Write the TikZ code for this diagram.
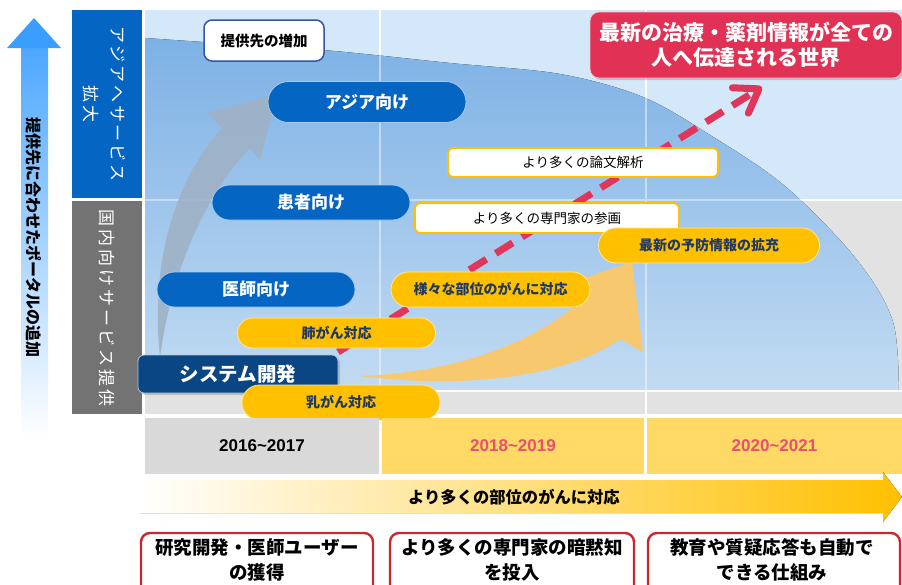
\documentclass[tikz,border=0pt]{standalone}
\usepackage{fontspec}
\setmainfont{Noto Sans CJK JP}
\newfontfamily\jpls{Noto Sans CJK JP}[LetterSpace=17]
\newfontfamily\numfont{Liberation Sans}
\usetikzlibrary{shapes.misc,arrows.meta,shadows}
\definecolor{skyband}{HTML}{D5E8FA}
\definecolor{grayband}{HTML}{E2E2E2}
\definecolor{yearbox}{HTML}{D9D9D9}
\definecolor{yearyel}{HTML}{FFD966}
\definecolor{pillblue}{HTML}{0565C2}
\definecolor{navybox}{HTML}{0A4584}
\definecolor{gold}{HTML}{FFC000}
\definecolor{navytext}{HTML}{1F3864}
\definecolor{goalred}{HTML}{E13154}
\definecolor{dashred}{HTML}{E0365A}
\definecolor{yeartext}{HTML}{E8506E}
\definecolor{lblblue}{HTML}{0565C3}
\definecolor{lblgray}{HTML}{737373}
\definecolor{upblue}{HTML}{3A9EFF}
\definecolor{grayarrow}{HTML}{9FB2C6}
\definecolor{orangearrow}{HTML}{F7C86E}
\definecolor{blobtop}{HTML}{7DB1E5}
\definecolor{blobmid}{HTML}{8BC2F2}
\definecolor{blobbot}{HTML}{C2DBF2}
\definecolor{boxred}{HTML}{C9262D}
\definecolor{tealborder}{HTML}{3355A5}
\tikzset{
  bluepill/.style={rounded rectangle, fill=pillblue, draw=white!65!pillblue, line width=0.8pt,
    text=white, font=\bfseries\fontsize{17}{20}\selectfont, inner sep=0pt},
  orangepill/.style={rounded rectangle, fill=gold, draw=white!60!gold, line width=0.8pt,
    text=navytext, font=\bfseries\fontsize{14}{17}\selectfont, inner sep=0pt},
  whitebox/.style={rectangle, rounded corners=5pt, fill=white, draw=gold, line width=1.8pt,
    text=black, font=\fontsize{13.5}{16}\selectfont, inner sep=0pt},
  yearcell/.style={rectangle, inner sep=0pt, minimum height=56pt,
    font=\numfont\bfseries\fontsize{17}{20}\selectfont},
  goalbox/.style={rectangle, rounded corners=9pt, fill=goalred, draw=white!70!goalred, line width=0.8pt,
    text=white, align=center, font=\bfseries\fontsize{21}{25}\selectfont, inner sep=0pt,
    drop shadow={opacity=0.35, shadow xshift=2pt, shadow yshift=-2pt}},
  sysbox/.style={rectangle, rounded corners=6pt, fill=navybox, draw=white!70!navybox, line width=0.8pt,
    text=white, font=\bfseries\fontsize{19.5}{22}\selectfont, inner sep=0pt,
    drop shadow={opacity=0.35, shadow xshift=2pt, shadow yshift=-2pt}},
  goalbottom/.style={rectangle, rounded corners=9pt, fill=white, draw=boxred, line width=2.4pt, inner sep=0pt},
  goaltext/.style={align=center, font=\bfseries\fontsize{18.5}{24.5}\selectfont, inner sep=0pt},
  sidelabel/.style={rotate=-90, text=white, align=center, font=\jpls\fontsize{17}{27}\selectfont, inner sep=0pt},
}
\begin{document}
\begin{tikzpicture}[x=1pt,y=-1pt]
\useasboundingbox (0,0) rectangle (902,584);
\clip (0,0) rectangle (902,584);

% left up arrow
\fill[top color=upblue!90!white, bottom color=white] (21,47) rectangle (48,438);
\fill[upblue] (34,18) -- (61,48) -- (7,48) -- cycle;
\node[rotate=-90, font=\bfseries\fontsize{16}{18}\selectfont, inner sep=0pt] (axislabel) at (34,237) {提供先に合わせたポータルの追加};

% side labels
\fill[lblblue] (72,10) rectangle (142,198);
\fill[lblgray] (72,201) rectangle (142,414);
\node[sidelabel] (lblasia) at (104.5,104) {アジアへサービス\\拡大};
\node[sidelabel] (lbldom) at (107,308) {国内向けサービス提供};

% chart background
\fill[skyband] (145,10) rectangle (902,199);
\fill[grayband] (145,199) rectangle (902,414);
\draw[white, line width=2pt] (380,10) -- (380,414) (646,10) -- (646,414) (145,200) -- (902,200);

% blob
\fill[top color=blobtop, middle color=blobmid, bottom color=blobbot]
  plot[smooth, tension=0.55] coordinates {(145,38) (203,42) (323,50) (450,63) (560,74) (643,97) (710,135) (780,182) (840,240) (875,285) (893,322) (898,360) (898,390)}
  -- (145,390) -- cycle;
\draw[white, line width=2pt, opacity=0.45] (380,38) -- (380,390) (646,90) -- (646,390) (145,200) -- (860,200);
\draw[white, line width=1.5pt] (145,391) -- (902,391);

% gray curved arrow
\fill[grayarrow, opacity=0.9] (160,357) .. controls (150,262) and (175,180) .. (222,128) -- (207,113) -- (277,94)
  -- (260,160) -- (250,148) .. controls (205,195) and (172,270) .. (160,357) -- cycle;

% orange curved arrow
\fill[orangearrow] (360,376) .. controls (470,372) and (545,335) .. (585,297) -- (575,281) -- (632,262)
  -- (643,352) -- (620,339) .. controls (570,375) and (470,390) .. (360,376) -- cycle;

% red dashed arrow
\coordinate (dashstart) at (338,352);
\coordinate (dashend) at (762,87);
\draw[dashred, line width=7pt, dash pattern=on 20pt off 11pt,
  -{Straight Barb[length=22pt, width=30pt, line cap=round, line join=round]}] (dashstart) -- (dashend);

% nodes
\node[bluepill, minimum width=198pt, minimum height=41pt] (asia) at (367,102) {アジア向け};
\node[bluepill, minimum width=198pt, minimum height=35pt] (patients) at (311,202.5) {患者向け};
\node[bluepill, minimum width=198pt, minimum height=35pt] (doctors) at (256,289.5) {医師向け};
\node[orangepill, minimum width=198pt, minimum height=30pt] (lung) at (336.5,333) {肺がん対応};
\node[sysbox, minimum width=200pt, minimum height=38pt] (sys) at (238,374) {システム開発};
\node[orangepill, minimum width=198pt, minimum height=35pt] (breast) at (341,402.5) {乳がん対応};
\node[orangepill, minimum width=199pt, minimum height=35pt] (various) at (490.5,289.5) {様々な部位のがんに対応};
\node[whitebox, minimum width=264pt, minimum height=30pt] (experts) at (547,218) {より多くの専門家の参画};
\node[whitebox, minimum width=270pt, minimum height=29pt] (papers) at (583,162.5) {より多くの論文解析};
\node[orangepill, minimum width=221pt, minimum height=35pt] (prevent) at (709,245.5) {最新の予防情報の拡充};
\node[rectangle, rounded corners=8pt, fill=white, draw=tealborder, line width=1.5pt, minimum width=120pt, minimum height=41pt,
  font=\bfseries\fontsize{14.5}{17}\selectfont, inner sep=0pt] (more) at (264,40.5) {提供先の増加};
\node[goalbox, minimum width=312pt, minimum height=66pt] (goal) at (746,45) {最新の治療・薬剤情報が全ての\\人へ伝達される世界};

% year row
\node[yearcell, fill=yearbox, minimum width=234pt] (y1) at (262,446) {2016\textasciitilde2017};
\node[yearcell, fill=yearyel, minimum width=262pt, text=yeartext] (y2) at (513,446) {2018\textasciitilde2019};
\node[yearcell, fill=yearyel, minimum width=255pt, text=yeartext] (y3) at (774.5,446) {2020\textasciitilde2021};

% bottom big arrow
\fill[left color=white, right color=gold] (140,480) -- (883,480) -- (883,472) -- (902,497) -- (883,522) -- (883,513) -- (140,513) -- cycle;
\node[font=\bfseries\fontsize{16.3}{19}\selectfont, inner sep=0pt] (cancers) at (514,497) {より多くの部位のがんに対応};

% bottom boxes
\node[goalbottom, minimum width=232pt, minimum height=70pt] (b1) at (257,568) {};
\node[goalbottom, minimum width=244pt, minimum height=70pt] (b2) at (512,568) {};
\node[goalbottom, minimum width=252pt, minimum height=70pt] (b3) at (774,568) {};
\node[goaltext] (t1) at (257,560) {研究開発・医師ユーザー\\の獲得};
\node[goaltext] (t2) at (512,560) {より多くの専門家の暗黙知\\を投入};
\node[goaltext] (t3) at (772,560) {教育や質疑応答も自動で\\できる仕組み};
\end{tikzpicture}
\end{document}
